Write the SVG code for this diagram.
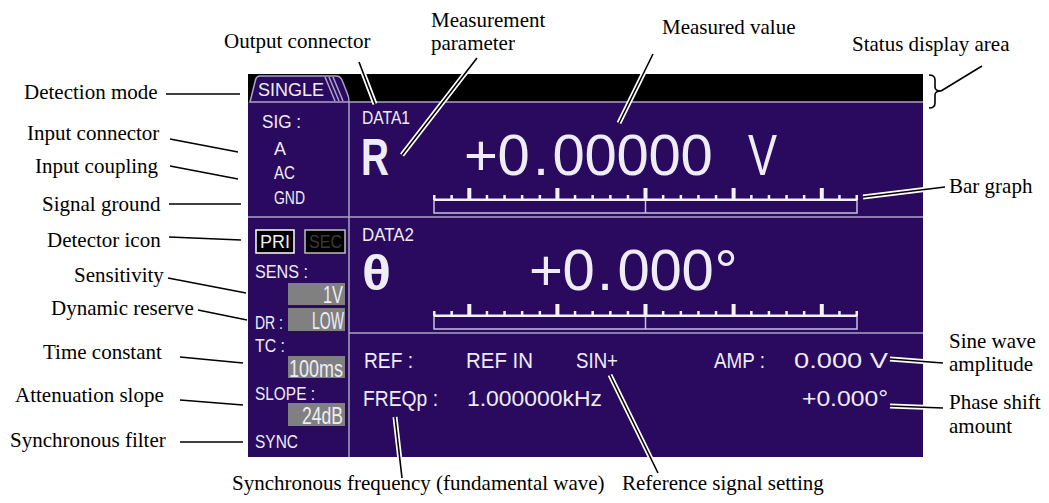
<svg xmlns="http://www.w3.org/2000/svg" xmlns:xlink="http://www.w3.org/1999/xlink" width="1049" height="503" viewBox="0 0 1049 503">
<style>
.lbl{font-family:"Liberation Serif","Times New Roman",serif;font-size:21px;fill:#000}
.lcd{font-family:"Liberation Sans",Arial,sans-serif;fill:#eeedf6}
.s18{font-size:18px}
.s22{font-size:22px}
.s24{font-size:24px}
.big{font-size:58px}
.div{stroke:#aaa3c6;stroke-width:1.5;fill:none}
.lead{stroke:#000;stroke-width:1.6;fill:none}
.halo{stroke:#fff;stroke-width:5;fill:none}
.val{fill:#808080}
.tk{fill:#f2f2f8}
</style>
<defs>
<g id="bar">
<rect x="434" y="200" width="423" height="13" fill="none" stroke="#c9c2e2" stroke-width="1.5"/>
<line x1="645.5" y1="200" x2="645.5" y2="213" stroke="#c9c2e2" stroke-width="1.5"/>
<rect x="434" y="198.5" width="423" height="2.5" class="tk"/>
<rect class="tk" x="433" y="195" width="2.5" height="5"/>
<rect class="tk" x="450.4" y="195" width="2.5" height="5"/>
<rect class="tk" x="467.3" y="188" width="4" height="12"/>
<rect class="tk" x="485.7" y="195" width="2.5" height="5"/>
<rect class="tk" x="503.3" y="195" width="2.5" height="5"/>
<rect class="tk" x="520.9" y="195" width="2.5" height="5"/>
<rect class="tk" x="538.6" y="195" width="2.5" height="5"/>
<rect class="tk" x="555.4" y="188" width="4" height="12"/>
<rect class="tk" x="573.8" y="195" width="2.5" height="5"/>
<rect class="tk" x="591.4" y="195" width="2.5" height="5"/>
<rect class="tk" x="609.1" y="195" width="2.5" height="5"/>
<rect class="tk" x="626.7" y="195" width="2.5" height="5"/>
<rect class="tk" x="643.5" y="188" width="4" height="12"/>
<rect class="tk" x="661.9" y="195" width="2.5" height="5"/>
<rect class="tk" x="679.6" y="195" width="2.5" height="5"/>
<rect class="tk" x="697.2" y="195" width="2.5" height="5"/>
<rect class="tk" x="714.8" y="195" width="2.5" height="5"/>
<rect class="tk" x="731.6" y="188" width="4" height="12"/>
<rect class="tk" x="750.1" y="195" width="2.5" height="5"/>
<rect class="tk" x="767.7" y="195" width="2.5" height="5"/>
<rect class="tk" x="785.3" y="195" width="2.5" height="5"/>
<rect class="tk" x="802.9" y="195" width="2.5" height="5"/>
<rect class="tk" x="819.8" y="188" width="4" height="12"/>
<rect class="tk" x="838.2" y="195" width="2.5" height="5"/>
<rect class="tk" x="855.5" y="195" width="2.5" height="5"/>
</g>
</defs>

<g id="screen">
<rect x="248" y="74" width="675" height="28" fill="#000"/>
<rect x="248" y="102" width="675" height="355" fill="#2a0a5e"/>
<path d="M250,102 L255.5,80 Q256.5,76 260,76 L336,76 Q340,76 342,80 L347.5,94 Q349,97 349,102 Z" fill="#2a0a5e" stroke="#aaa3c6" stroke-width="1.5"/>
<path class="div" d="M325,77 L335,101 M329,77 L339,101 M333,77 L343,101"/>
<line class="div" x1="349" y1="102" x2="923" y2="102"/>
<line class="div" x1="349" y1="102" x2="349" y2="457"/>
<line class="div" x1="248" y1="217" x2="923" y2="217"/>
<line class="div" x1="349" y1="333" x2="923" y2="333"/>
</g>

<g id="tab-single"><text class="lcd s18" x="258" y="96" textLength="66" lengthAdjust="spacingAndGlyphs">SINGLE</text></g>

<g id="input-panel">
<text class="lcd s18" x="262" y="128" textLength="39" lengthAdjust="spacingAndGlyphs">SIG :</text>
<text class="lcd s18" x="274" y="155" textLength="12" lengthAdjust="spacingAndGlyphs">A</text>
<text class="lcd s18" x="274" y="179" textLength="21" lengthAdjust="spacingAndGlyphs">AC</text>
<text class="lcd s18" x="274" y="204" textLength="31" lengthAdjust="spacingAndGlyphs">GND</text>
</g>

<g id="detector-icon">
<rect x="256" y="230" width="38" height="23" fill="#000" stroke="#fff" stroke-width="1.5"/>
<text class="lcd s18" x="260" y="248" textLength="30" lengthAdjust="spacingAndGlyphs">PRI</text>
<rect x="305" y="230" width="40" height="23" fill="#000" stroke="#bdbdbd" stroke-width="1.5"/>
<text class="lcd s18" x="309" y="248" textLength="33" lengthAdjust="spacingAndGlyphs" style="fill:#3a3a3a">SEC</text>
</g>

<g id="settings-panel">
<text class="lcd s18" x="255" y="278" textLength="53" lengthAdjust="spacingAndGlyphs">SENS :</text>
<rect class="val" x="288" y="283" width="57" height="22"/>
<text class="lcd s24" x="323" y="303" textLength="20" lengthAdjust="spacingAndGlyphs">1V</text>
<text class="lcd s18" x="255" y="329" textLength="28" lengthAdjust="spacingAndGlyphs">DR :</text>
<rect class="val" x="288" y="308" width="57" height="23"/>
<text class="lcd s24" x="312" y="329" textLength="32" lengthAdjust="spacingAndGlyphs">LOW</text>
<text class="lcd s18" x="255" y="352" textLength="30" lengthAdjust="spacingAndGlyphs">TC :</text>
<rect class="val" x="288" y="356" width="57" height="22"/>
<text class="lcd s24" x="289" y="377" textLength="54" lengthAdjust="spacingAndGlyphs">100ms</text>
<text class="lcd s18" x="255" y="400" textLength="60" lengthAdjust="spacingAndGlyphs">SLOPE :</text>
<rect class="val" x="288" y="403" width="57" height="23"/>
<text class="lcd s24" x="302" y="424" textLength="41" lengthAdjust="spacingAndGlyphs">24dB</text>
<text class="lcd s18" x="255" y="448" textLength="43" lengthAdjust="spacingAndGlyphs">SYNC</text>
</g>

<g id="data1">
<text class="lcd s18" x="362" y="124" textLength="48" lengthAdjust="spacingAndGlyphs">DATA1</text>
<text class="lcd" x="361" y="175" font-size="51" font-weight="bold" textLength="28" lengthAdjust="spacingAndGlyphs">R</text>
<text class="lcd big" x="464 497.5 533 552.5 584.5 616.5 648.5 680.5" y="175">+0.00000</text>
<text class="lcd big" x="748" y="175" textLength="29" lengthAdjust="spacingAndGlyphs">V</text>
<use xlink:href="#bar"/>
</g>

<g id="data2">
<text class="lcd s18" x="362" y="241" textLength="52" lengthAdjust="spacingAndGlyphs">DATA2</text>
<text class="lcd" x="362" y="290" font-size="50" font-weight="bold" textLength="29" lengthAdjust="spacingAndGlyphs">θ</text>
<text class="lcd big" x="529 562.5 597 617.5 649.5 681.5 714.5" y="290">+0.000°</text>
<use xlink:href="#bar" transform="translate(0,116)"/>
</g>

<g id="ref-panel">
<text class="lcd s22" x="364" y="368" textLength="49" lengthAdjust="spacingAndGlyphs">REF :</text>
<text class="lcd s22" x="466" y="368" textLength="67" lengthAdjust="spacingAndGlyphs">REF IN</text>
<text class="lcd s22" x="576" y="368" textLength="42" lengthAdjust="spacingAndGlyphs">SIN+</text>
<text class="lcd s22" x="714" y="368" textLength="51" lengthAdjust="spacingAndGlyphs">AMP :</text>
<text class="lcd s22" x="794" y="368" textLength="94" lengthAdjust="spacingAndGlyphs">0.000 V</text>
<text class="lcd s22" x="363" y="406" textLength="75" lengthAdjust="spacingAndGlyphs">FREQp :</text>
<text class="lcd s22" x="467" y="406" textLength="135" lengthAdjust="spacingAndGlyphs">1.000000kHz</text>
<text class="lcd s22" x="802" y="406" textLength="86" lengthAdjust="spacingAndGlyphs">+0.000°</text>
</g>

<g id="label-detection-mode"><text class="lbl" x="24" y="99">Detection mode</text></g>
<g id="label-input-connector"><text class="lbl" x="27" y="140">Input connector</text></g>
<g id="label-input-coupling"><text class="lbl" x="35" y="173">Input coupling</text></g>
<g id="label-signal-ground"><text class="lbl" x="42" y="211">Signal ground</text></g>
<g id="label-detector-icon"><text class="lbl" x="47" y="247">Detector icon</text></g>
<g id="label-sensitivity"><text class="lbl" x="74" y="282">Sensitivity</text></g>
<g id="label-dynamic-reserve"><text class="lbl" x="51" y="315">Dynamic reserve</text></g>
<g id="label-time-constant"><text class="lbl" x="43" y="359">Time constant</text></g>
<g id="label-attenuation-slope"><text class="lbl" x="15" y="402">Attenuation slope</text></g>
<g id="label-synchronous-filter"><text class="lbl" x="10" y="447">Synchronous filter</text></g>
<g id="label-output-connector"><text class="lbl" x="224" y="48">Output connector</text></g>
<g id="label-measurement-parameter"><text class="lbl" x="431" y="27">Measurement</text><text class="lbl" x="431" y="50">parameter</text></g>
<g id="label-measured-value"><text class="lbl" x="662" y="34">Measured value</text></g>
<g id="label-status-display-area"><text class="lbl" x="852" y="51">Status display area</text></g>
<g id="label-bar-graph"><text class="lbl" x="949" y="193">Bar graph</text></g>
<g id="label-sine-wave-amplitude"><text class="lbl" x="949" y="348">Sine wave</text><text class="lbl" x="949" y="371">amplitude</text></g>
<g id="label-phase-shift-amount"><text class="lbl" x="949" y="409">Phase shift</text><text class="lbl" x="949" y="433">amount</text></g>
<g id="label-synchronous-frequency"><text class="lbl" x="232" y="490">Synchronous frequency (fundamental wave)</text></g>
<g id="label-reference-signal-setting"><text class="lbl" x="622" y="490">Reference signal setting</text></g>

<g id="connectors">
<path class="halo" d="M359,62 L375,104 M477,58 L402,155 M653,54 L619,123 M863,197 L945,187 M890,359 L943,363 M890,406 L943,408 M395,417 L402,478 M610,375 L658,473"/>
<path class="lead" d="M359,62 L375,104 M477,58 L402,155 M653,54 L619,123 M863,197 L945,187 M890,359 L943,363 M890,406 L943,408 M395,417 L402,478 M610,375 L658,473"/>
<path class="lead" d="M166,94 L240,94 M170,139 L238,152 M170,166 L238,179 M169,204 L241,204 M169,237 L241,240 M168,278 L246,293 M198,310 L247,320 M180,357 L243,363 M180,400 L243,405 M180,442 L243,442"/>
<path class="lead" d="M929,75 Q935,75 935,80 L935,87 Q935,91 941,91 Q935,91 935,95 L935,103 Q935,108 929,108 M941,91 L982,66"/>
</g>
</svg>
